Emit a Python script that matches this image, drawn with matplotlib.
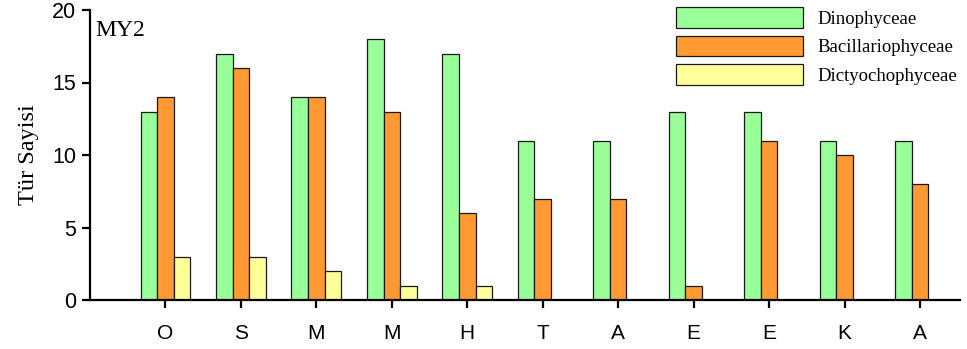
import numpy as np
import matplotlib
matplotlib.use("Agg")
import matplotlib.pyplot as plt

months = ["O", "S", "M", "M", "H", "T", "A", "E", "E", "K", "A"]
dino = [13, 17, 14, 18, 17, 11, 11, 13, 13, 11, 11]
bacil = [14, 16, 14, 13, 6, 7, 7, 1, 11, 10, 8]
dicty = [3, 3, 2, 1, 1, 0, 0, 0, 0, 0, 0]

serif = ["Liberation Serif", "DejaVu Serif"]
sans = ["Liberation Sans", "DejaVu Sans"]

fig = plt.figure(figsize=(9.67, 3.49), dpi=100)
ax = fig.add_axes([90 / 967, 49 / 349, 870 / 967, 290 / 349])

x = np.arange(len(months))
w = 0.22
ax.bar(x - w, dino, w, color="#99ff99", edgecolor="#1a1a1a", linewidth=0.9, label="Dinophyceae")
ax.bar(x, bacil, w, color="#ff9933", edgecolor="#1a1a1a", linewidth=0.9, label="Bacillariophyceae")
ax.bar(x + w, dicty, w, color="#ffff99", edgecolor="#1a1a1a", linewidth=0.9, label="Dictyochophyceae")

ax.set_xlim(-1.0, 10.53)
ax.set_ylim(0, 20)
ax.set_yticks([0, 5, 10, 15, 20])
ax.set_xticks(x)
ax.set_xticklabels(months, family=sans, fontsize=15)
for lab in ax.get_yticklabels():
    lab.set_family(sans)
    lab.set_fontsize(15.5)

ax.spines["top"].set_visible(False)
ax.spines["right"].set_visible(False)
ax.spines["left"].set_linewidth(1.6)
ax.spines["bottom"].set_linewidth(1.6)
ax.tick_params(direction="out", length=6, width=1.6)
ax.tick_params(axis="y", pad=4)
ax.tick_params(axis="x", pad=11)

ax.set_ylabel("Tür Sayisi", family=serif, fontsize=17.5, labelpad=9)
ax.text(0.006, 0.965, "MY2", transform=ax.transAxes, family=serif,
        fontsize=17, ha="left", va="top")

leg = ax.legend(loc="upper left", bbox_to_anchor=(676 / 967, 1 - 7 / 349),
                bbox_transform=fig.transFigure, frameon=False, borderpad=0,
                borderaxespad=0, handlelength=6.75, handleheight=1.33,
                labelspacing=0.42, handletextpad=0.8,
                prop={"family": serif, "size": 13.5})

fig.savefig("out.png", dpi=100)
